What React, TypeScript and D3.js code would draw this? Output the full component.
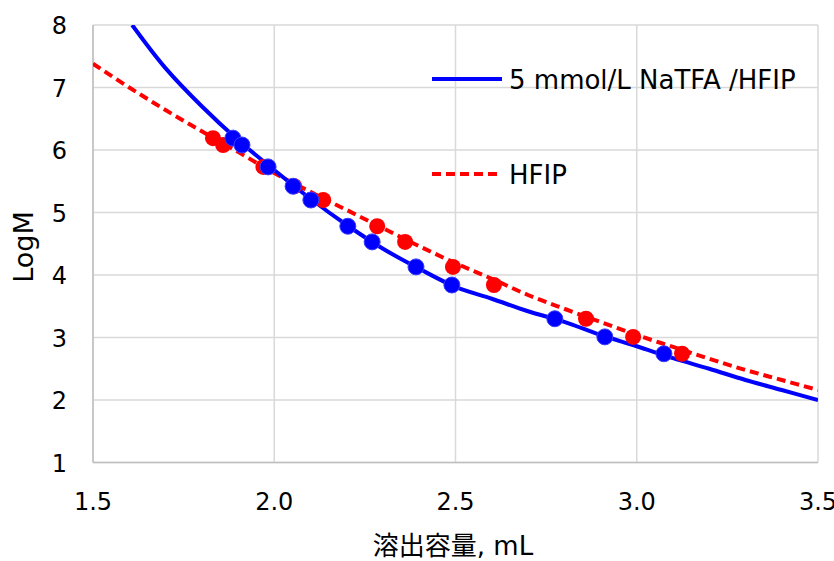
import React, { useEffect, useRef } from 'react';
import * as d3 from 'd3';

// logM of the standards (same for both eluents)
const standardLogM = [6.19, 6.08, 5.73, 5.42, 5.2, 4.78, 4.53, 4.13, 3.84, 3.3, 3.01, 2.74];
// elution volumes, mL
const naTfaVolume = [1.886, 1.911, 1.983, 2.052, 2.101, 2.203, 2.27, 2.391, 2.49, 2.774, 2.912, 3.075];
const hfipVolume = [1.831, 1.859, 1.97, 2.055, 2.135, 2.284, 2.361, 2.493, 2.606, 2.86, 2.99, 3.125];

// calibration curves
const naTfaCurveX = [1.608, 1.7, 1.8, 1.9, 2.0, 2.1, 2.2, 2.3, 2.4, 2.5, 2.6, 2.7, 2.8, 2.9, 3.0, 3.1, 3.2, 3.3, 3.4, 3.5];
const naTfaCurveY = [8.0, 7.31, 6.7, 6.16, 5.68, 5.22, 4.8, 4.42, 4.1, 3.81, 3.62, 3.42, 3.25, 3.04, 2.86, 2.67, 2.5, 2.32, 2.16, 2.0];
const hfipCurveX = [1.5, 1.6, 1.7, 1.8, 1.9, 2.0, 2.1, 2.2, 2.3, 2.4, 2.5, 2.6, 2.7, 2.8, 2.9, 3.0, 3.1, 3.2, 3.3, 3.4, 3.5];
const hfipCurveY = [7.38, 7.0, 6.64, 6.3, 5.97, 5.63, 5.33, 5.04, 4.75, 4.46, 4.19, 3.94, 3.68, 3.46, 3.25, 3.04, 2.85, 2.66, 2.48, 2.32, 2.16];

const xTicks = [1.5, 2.0, 2.5, 3.0, 3.5];
const yTicks = [1, 2, 3, 4, 5, 6, 7, 8];
const seriesNames = ['5 mmol/L NaTFA /HFIP', 'HFIP'];

const BLUE = '#0000ff';
const RED = '#ff0000';
const FONT = 'Verdana, "DejaVu Sans", sans-serif';

const App = () => {
  const ref = useRef<SVGSVGElement | null>(null);

  useEffect(() => {
    document.body.style.margin = '0';
    const width = 834;
    const height = 561;
    const svg = d3.select(ref.current);
    svg.selectAll('*').remove();
    svg.attr('width', width).attr('height', height);

    const x = d3.scaleLinear().domain([1.5, 3.5]).range([93, 818]);
    const y = d3.scaleLinear().domain([1, 8]).range([462.5, 25]);

    svg.append('rect').attr('width', width).attr('height', height).attr('fill', '#fff');

    svg.append('defs').append('clipPath').attr('id', 'plot')
      .append('rect')
      .attr('x', x(1.5)).attr('y', y(8))
      .attr('width', x(3.5) - x(1.5)).attr('height', y(1) - y(8));

    // grid
    const grid = svg.append('g');
    grid.selectAll('.gx').data(xTicks).enter().append('line')
      .attr('x1', d => x(d)).attr('x2', d => x(d))
      .attr('y1', y(1)).attr('y2', y(8))
      .attr('stroke', '#d9d9d9').attr('stroke-width', 1.5);
    grid.selectAll('.gy').data(yTicks).enter().append('line')
      .attr('x1', x(1.5)).attr('x2', x(3.5))
      .attr('y1', d => y(d)).attr('y2', d => y(d))
      .attr('stroke', '#d9d9d9').attr('stroke-width', 1.5);
    // axis lines
    svg.append('line').attr('x1', x(1.5)).attr('x2', x(1.5)).attr('y1', y(1)).attr('y2', y(8))
      .attr('stroke', '#bfbfbf').attr('stroke-width', 1.5);
    svg.append('line').attr('x1', x(1.5)).attr('x2', x(3.5)).attr('y1', y(1)).attr('y2', y(1))
      .attr('stroke', '#bfbfbf').attr('stroke-width', 1.5);

    // tick labels
    svg.selectAll('.xt').data(xTicks).enter().append('text')
      .attr('x', d => x(d)).attr('y', 510)
      .attr('text-anchor', 'middle')
      .attr('font-family', FONT).attr('font-size', 24).attr('fill', '#000')
      .text(d => d3.format('.1f')(d));
    svg.selectAll('.yt').data(yTicks).enter().append('text')
      .attr('x', 67).attr('y', d => y(d) + 9)
      .attr('text-anchor', 'end')
      .attr('font-family', FONT).attr('font-size', 24).attr('fill', '#000')
      .text(d => d);

    // axis titles
    svg.append('text')
      .attr('x', 453).attr('y', 555)
      .attr('text-anchor', 'middle')
      .attr('font-family', '"DejaVu Sans", "Noto Sans CJK JP", sans-serif').attr('font-size', 26)
      .text('溶出容量, mL');
    svg.append('text')
      .attr('transform', `translate(33, 247) rotate(-90)`)
      .attr('text-anchor', 'middle')
      .attr('font-family', FONT).attr('font-size', 27)
      .text('LogM');

    const plot = svg.append('g').attr('clip-path', 'url(#plot)');
    const line = d3.line<[number, number]>()
      .x(d => x(d[0])).y(d => y(d[1]))
      .curve(d3.curveCatmullRom);

    plot.append('path')
      .attr('d', line(d3.zip(hfipCurveX, hfipCurveY) as [number, number][]))
      .attr('fill', 'none').attr('stroke', RED).attr('stroke-width', 4)
      .attr('stroke-dasharray', '9,5');
    plot.append('path')
      .attr('d', line(d3.zip(naTfaCurveX, naTfaCurveY) as [number, number][]))
      .attr('fill', 'none').attr('stroke', BLUE).attr('stroke-width', 4);

    plot.selectAll('.rp').data(d3.zip(hfipVolume, standardLogM)).enter().append('circle')
      .attr('cx', d => x(d[0])).attr('cy', d => y(d[1])).attr('r', 8)
      .attr('fill', RED);
    plot.selectAll('.bp').data(d3.zip(naTfaVolume, standardLogM)).enter().append('circle')
      .attr('cx', d => x(d[0])).attr('cy', d => y(d[1])).attr('r', 8)
      .attr('fill', BLUE).attr('stroke', '#3b3bff').attr('stroke-width', 1);

    // legend
    const legend = svg.append('g');
    const legendY = [79, 174];
    legend.selectAll('.ll').data(seriesNames).enter().append('line')
      .attr('x1', 432).attr('x2', 502)
      .attr('y1', (d, i) => legendY[i]).attr('y2', (d, i) => legendY[i])
      .attr('stroke', (d, i) => (i === 0 ? BLUE : RED))
      .attr('stroke-width', 4)
      .attr('stroke-dasharray', (d, i) => (i === 0 ? null : '9,5'));
    legend.selectAll('.lt').data(seriesNames).enter().append('text')
      .attr('x', 509).attr('y', (d, i) => legendY[i] + 10)
      .attr('font-family', FONT).attr('font-size', 26).attr('fill', '#000')
      .text(d => d);
  }, []);

  return <svg ref={ref} style={{ display: 'block' }} />;
};

export default App;
